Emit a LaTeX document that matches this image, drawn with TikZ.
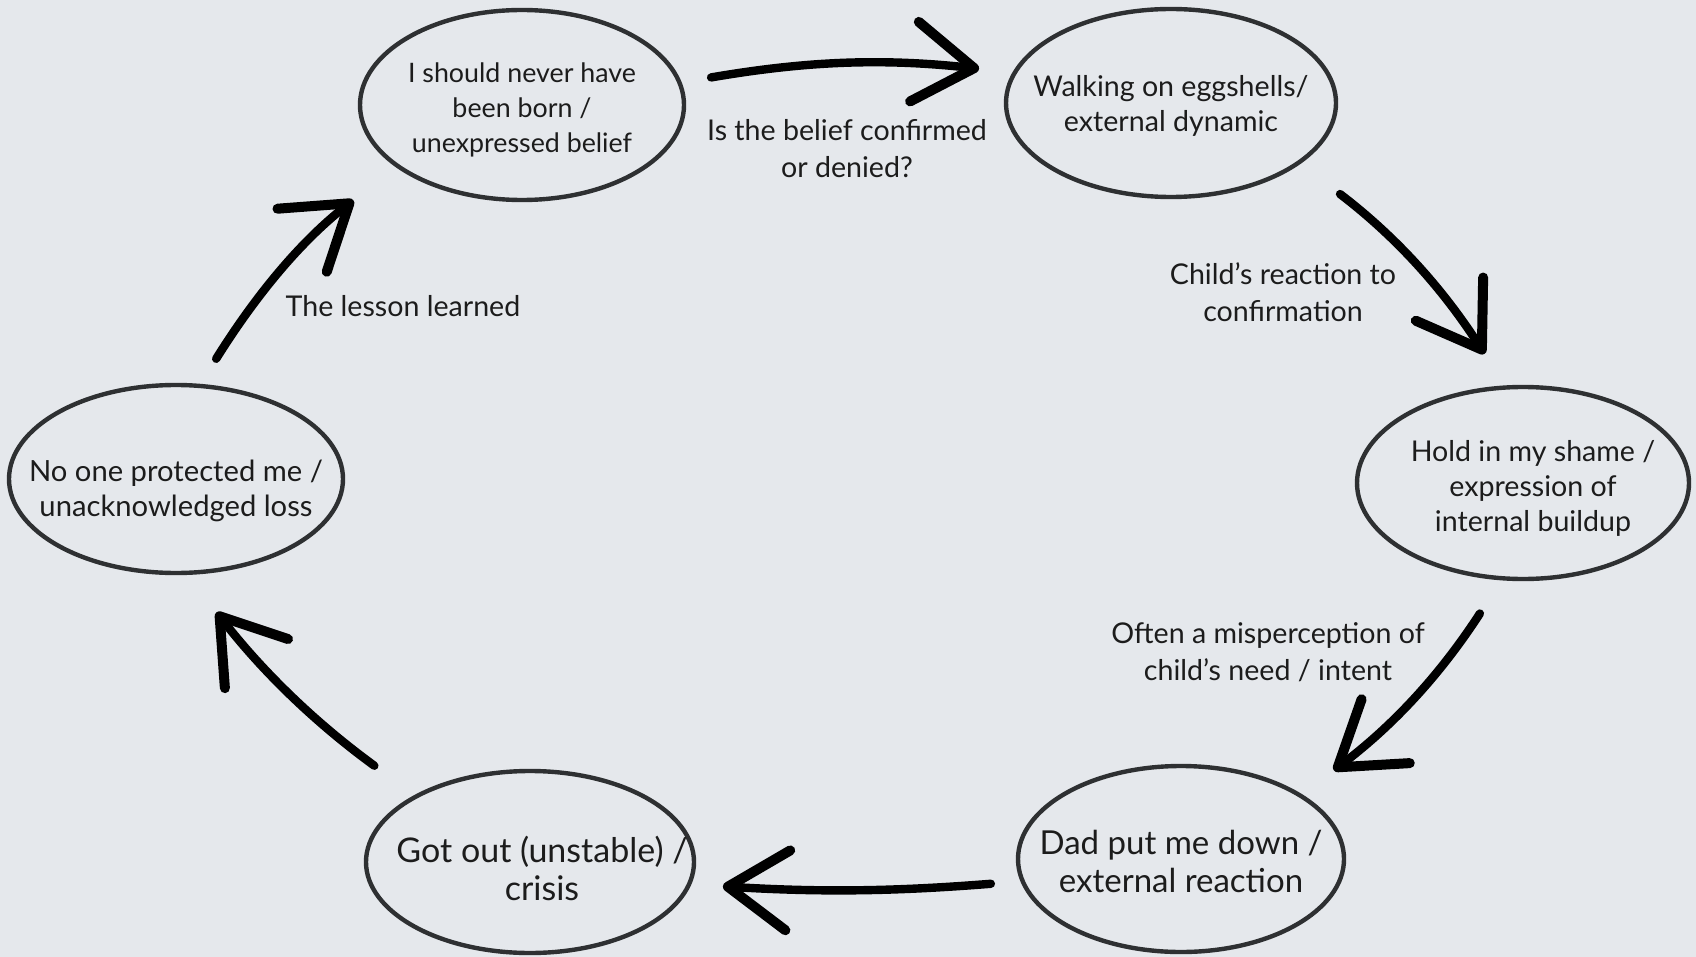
\documentclass[tikz,border=0pt]{standalone}
\usepackage{fontspec}
\setmainfont{Lato}
\usetikzlibrary{arrows.meta,shapes.geometric,positioning}
\definecolor{cyclebg}{HTML}{E5E8EC}
\definecolor{cycleink}{HTML}{1C1C1C}
\definecolor{cycleline}{HTML}{2E3032}
\tikzset{
  x=0.5pt,y=-0.5pt,
  bubble/.style={draw=cycleline,line width=2.2pt,ellipse,inner sep=0pt,outer sep=0pt},
  bubtext/.style={font=\fontsize{#1}{17.5}\selectfont,text=cycleink,align=center,inner sep=0pt},
  bigtext/.style={font=\fontsize{#1}{19}\selectfont,text=cycleink,align=center,inner sep=0pt},
  steplbl/.style={font=\fontsize{14.3}{18.5}\selectfont,text=cycleink,align=center,inner sep=0pt},
  brush/.style={draw=black,line width=4.2pt,line cap=round,
                -{Straight Barb[length=30pt,width=40pt,line width=5pt,round]}},
}
\begin{document}
\begin{tikzpicture}
  \fill[cyclebg] (0,0) rectangle (1696,957);
  \useasboundingbox (0,0) rectangle (1696,957);

  % the six stages, clockwise from top left
  \node[bubble,minimum width=162pt,minimum height=95pt,
        label={[bubtext=13.4,yshift=-2.5pt]center:I should never have\\been born /\\unexpressed belief}]
        (belief) at (522,105) {};
  \node[bubble,minimum width=165pt,minimum height=94pt,
        label={[bubtext=14.3,yshift=-1.5pt]center:Walking on eggshells/\\external dynamic}]
        (eggs) at (1171,103) {};
  \node[bubble,minimum width=166pt,minimum height=96pt,
        label={[bubtext=14.3,xshift=5pt,yshift=-2.5pt]center:Hold in my shame /\\expression of\\internal buildup}]
        (shame) at (1523,483) {};
  \node[bubble,minimum width=163pt,minimum height=93pt,
        label={[bigtext=16.5,yshift=-1pt]center:Dad put me down /\\external reaction}]
        (dad) at (1181,859) {};
  \node[bubble,minimum width=164pt,minimum height=91pt,
        label={[bigtext=17,xshift=6pt,yshift=-3pt]center:Got out (unstable) /\\crisis}]
        (gotout) at (530,862) {};
  \node[bubble,minimum width=167pt,minimum height=94pt,
        label={[bubtext=14.6,yshift=-6pt]center:No one protected me /\\unacknowledged loss}]
        (noone) at (176,479) {};

  % what moves the cycle on
  \node[steplbl] (confirm) at (847,149) {Is the belief confirmed\\or denied?};
  \node[steplbl] (react)   at (1283,292) {Child’s reaction to\\confirmation};
  \node[steplbl] (misread) at (1268,652) {Often a misperception of\\child’s need / intent};
  \node[steplbl] (lesson)  at (403,306) {The lesson learned};

  \draw[brush,shorten <=16pt,shorten >=18pt] (belief.8) to[bend left=8] (eggs.169);
  \draw[brush,shorten <=26pt,shorten >=20pt] (eggs.-25) to[bend left=10] (shame.100);
  \draw[brush,shorten <=21pt,shorten >=21pt] (shame.-102) to[bend left=10] (dad.28);
  \draw[brush,shorten <=16pt,shorten >=17pt] (dad.188) to[bend left=4] (gotout.-8);
  \draw[brush,shorten <=26pt,shorten >=25pt] (gotout.150) to[bend left=8] (noone.-84);
  \draw[brush,shorten <=16pt,shorten >=28pt] (noone.76) to[bend left=10] (belief.206);
\end{tikzpicture}
\end{document}
